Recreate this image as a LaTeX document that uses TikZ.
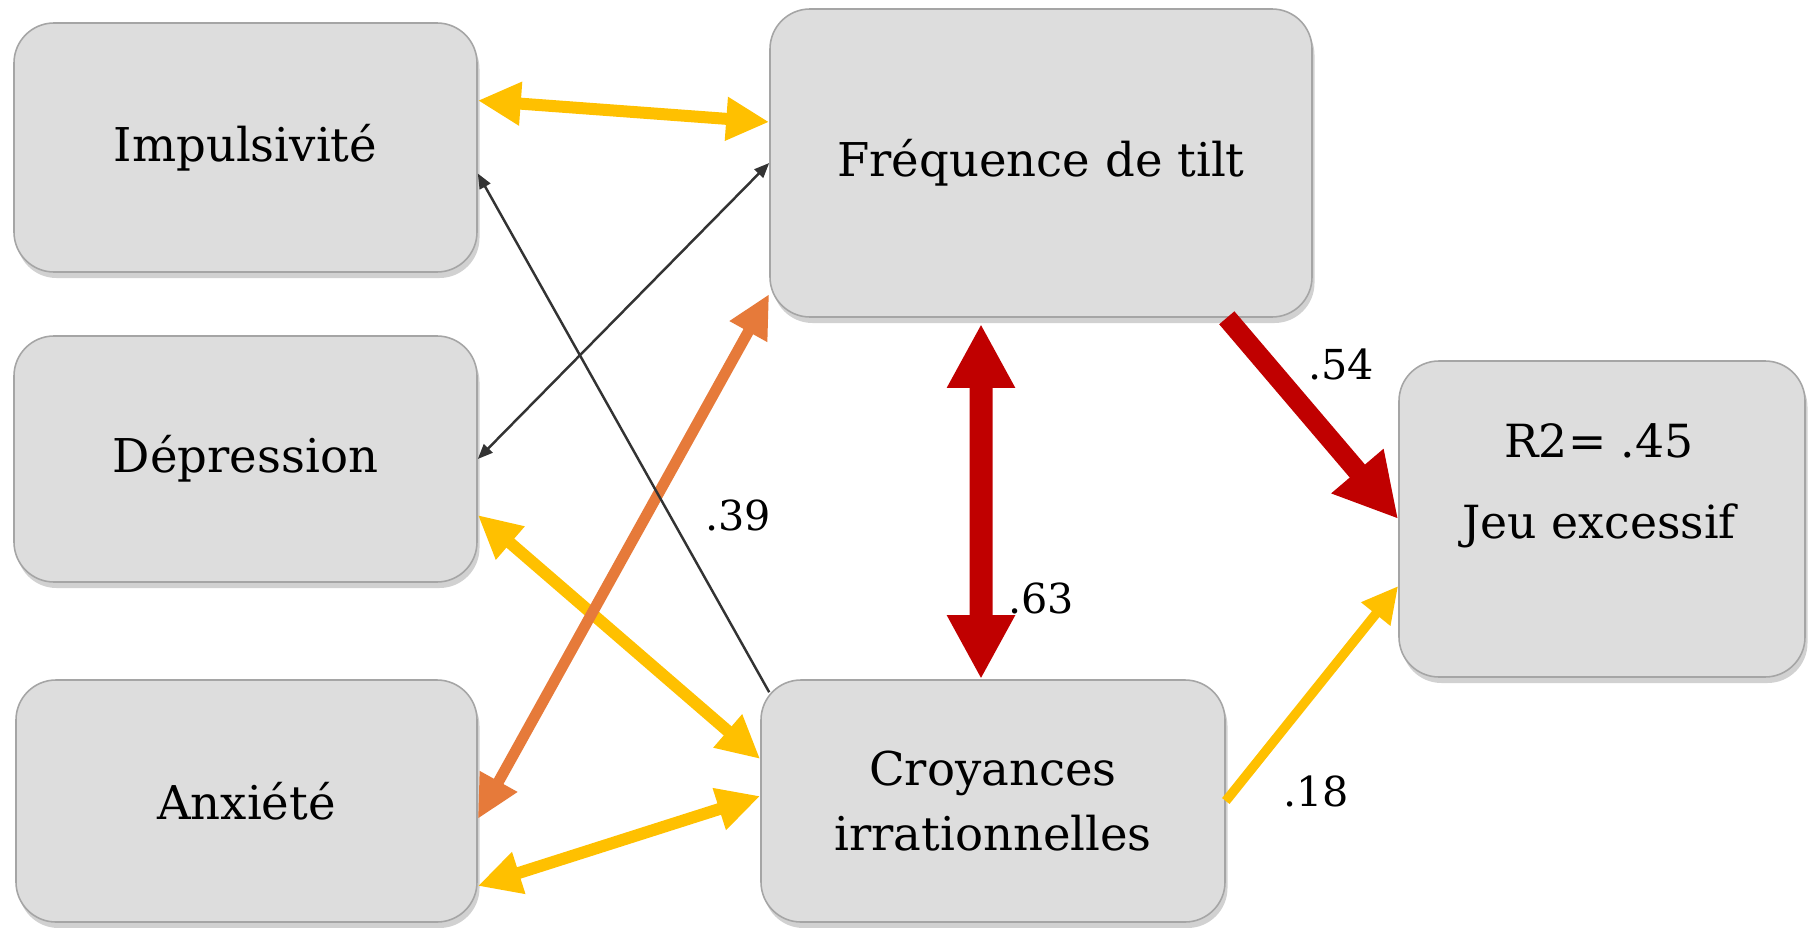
\documentclass[tikz,border=0pt]{standalone}
\usepackage{fontspec}
\setmainfont{DejaVu Serif}
\usetikzlibrary{arrows.meta,shadows}
\definecolor{boxfill}{HTML}{DDDDDD}
\definecolor{boxline}{HTML}{A5A5A5}
\definecolor{gold}{HTML}{FFC000}
\definecolor{tangerine}{HTML}{E67A3A}
\definecolor{crimson}{HTML}{C00000}
\definecolor{ink}{HTML}{333333}

\begin{document}
\begin{tikzpicture}[
		box/.style={rectangle, rounded corners=0.8cm, draw=boxline, line width=0.9pt, fill=boxfill, inner sep=0pt, align=center,
			font=\fontsize{26.5}{36.5}\selectfont,
			drop shadow={shadow xshift=0.05cm, shadow yshift=-0.12cm, opacity=0.3, fill=black!60}},
		coef/.style={font=\fontsize{23.5}{28}\selectfont},
		goldarrow/.style={draw=gold, line width=0.24cm, {Triangle[length=0.86cm, width=0.82cm]}-{Triangle[length=0.86cm, width=0.82cm]}},
		goldpath/.style={draw=gold, line width=0.19cm, -{Triangle[length=0.72cm, width=0.7cm]}},
		orangearrow/.style={draw=tangerine, line width=0.22cm, {Triangle[length=0.86cm, width=0.8cm]}-{Triangle[length=0.86cm, width=0.8cm]}},
		redarrow/.style={draw=crimson, line width=0.46cm, {Triangle[length=1.28cm, width=1.27cm]}-{Triangle[length=1.28cm, width=1.27cm]}},
		redpath/.style={draw=crimson, line width=0.4cm, -{Triangle[length=1.26cm, width=1.28cm]}},
		thinarrow/.style={draw=ink, line width=1.4pt, {Triangle[length=0.3cm, width=0.24cm]}-{Triangle[length=0.3cm, width=0.24cm]}},
		thinpath/.style={draw=ink, line width=1.4pt, -{Triangle[length=0.3cm, width=0.24cm]}}
	]
  \useasboundingbox (0cm, 0cm) rectangle (36.16cm, -18.56cm);
  \node (imp) [box, minimum width=9.26cm, minimum height=4.98cm] at (4.91cm, -2.95cm) {Impulsivité};
  \node (dep) [box, minimum width=9.26cm, minimum height=4.92cm] at (4.91cm, -9.18cm) {Dépression};
  \node (anx) [box, minimum width=9.22cm, minimum height=4.84cm] at (4.93cm, -16.02cm) {Anxiété};
  \node (freq) [box, minimum width=10.84cm, minimum height=6.16cm] at (20.82cm, -3.26cm) {Fréquence de tilt};
  \node (croy) [box, minimum width=9.28cm, minimum height=4.84cm] at (19.86cm, -16.02cm) {Croyances\\irrationnelles};
  \node (jeu) [box, minimum width=8.12cm, minimum height=6.32cm] at (32.04cm, -10.38cm) {};
  \node (jeu_txt) [align=center, font=\fontsize{26}{31}\selectfont] at (31.98cm, -9.72cm) {R2= .45\\[0.52cm]Jeu excessif};

  \draw [goldarrow] ([yshift=0.94cm]imp.east) -- ([yshift=0.82cm]freq.west);
  \draw [goldarrow] ([yshift=-1.12cm]dep.east) -- ([yshift=0.84cm]croy.west);
  \draw [goldarrow] ([yshift=-1.7cm]anx.east) -- ([yshift=0.1cm]croy.west);
  \draw [goldpath] (croy.east) -- ([yshift=-1.34cm]jeu.west);
  \draw [orangearrow] ([yshift=-0.36cm]anx.east) -- ([yshift=-2.62cm]freq.west);
  \draw [thinpath] ([xshift=0.18cm, yshift=-0.26cm]croy.north west) -- ([yshift=-0.52cm]imp.east);
  \draw [thinarrow] (freq.west) -- (dep.east);
  \draw [redarrow] ([xshift=-1.2cm, yshift=-0.12cm]freq.south) -- ([xshift=-0.24cm]croy.north);
  \draw [redpath] ([xshift=-1.72cm]freq.south east) -- (jeu.west);

  \node (coef_54) [coef] at (26.82cm, -7.28cm) {.54};
  \node (coef_39) [coef] at (14.76cm, -10.3cm) {.39};
  \node (coef_63) [coef] at (20.82cm, -11.96cm) {.63};
  \node (coef_18) [coef] at (26.32cm, -15.82cm) {.18};
\end{tikzpicture}
\end{document}
